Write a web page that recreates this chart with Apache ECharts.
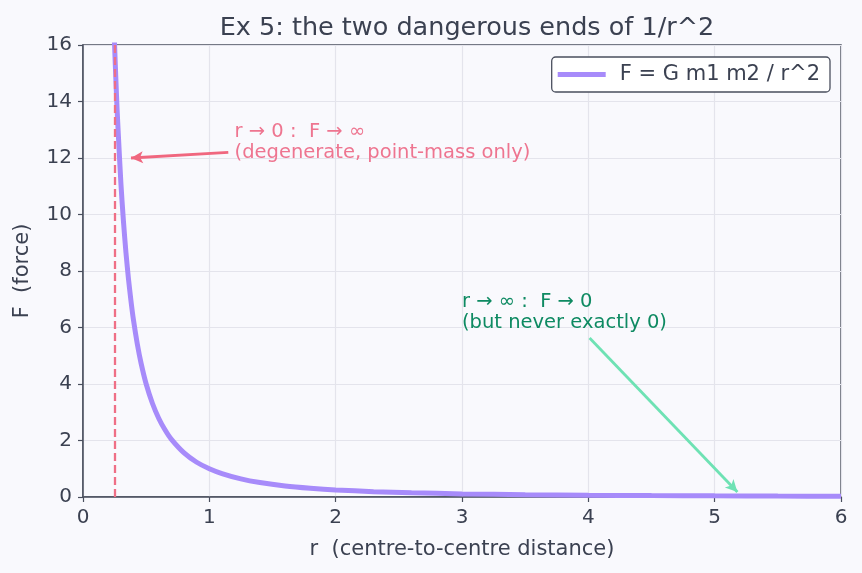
<!DOCTYPE html>
<html><head><meta charset="utf-8">
<script src="https://cdn.jsdelivr.net/npm/echarts@6/dist/echarts.min.js"></script>
<style>html,body{margin:0;padding:0;background:#f9f9fd;}#c{width:862px;height:573px;}</style>
</head><body><div id="c"></div>
<script>
// Data
const rValues = [0.24,0.25,0.26,0.27,0.28,0.3,0.32,0.34,0.36,0.38,0.4,0.43,0.46,0.5,0.55,0.6,0.65,0.7,0.8,0.9,1.0,1.1,1.25,1.4,1.6,1.8,2.0,2.3,2.6,3.0,3.5,4.0,4.5,5.0,5.5,6.0];
const forceValues = [17.4,16.0,14.8,13.7,12.8,11.1,9.77,8.65,7.72,6.93,6.25,5.41,4.73,4.0,3.31,2.78,2.37,2.04,1.56,1.23,1.0,0.83,0.64,0.51,0.39,0.31,0.25,0.19,0.15,0.11,0.082,0.0625,0.049,0.04,0.033,0.028];
const xTicks = [0,1,2,3,4,5,6];
const yTicks = [0,2,4,6,8,10,12,14,16];
const dashR = 0.25;
const nearArrow = [[1.15,12.2],[0.38,12.0]];
const farArrow = [[4.01,5.63],[5.18,0.18]];
const nearText = {pos:[1.2,12], lines:['r \u2192 0 :  F \u2192 \u221e','(degenerate, point-mass only)']};
const farText = {pos:[3.0,6], lines:['r \u2192 \u221e :  F \u2192 0','(but never exactly 0)']};
const titleText = 'Ex 5: the two dangerous ends of 1/r^2';
const seriesName = 'F = G m1 m2 / r^2';

const FONT = 'DejaVu Sans';
const TXT = '#3b4151';
const chart = echarts.init(document.getElementById('c'), null, {renderer:'canvas'});
const data = rValues.map((r,i)=>[r, forceValues[i]]);
chart.setOption({
  backgroundColor:'#f9f9fd',
  animation:false,
  title:{text:titleText,left:462,textAlign:'center',top:10,textStyle:{fontFamily:FONT,fontSize:25.5,fontWeight:'normal',color:TXT}},
  legend:{show:true,right:32,top:57,orient:'vertical',itemWidth:48,itemHeight:5,itemGap:0,
    padding:[7,10,7,6],borderColor:'#4a4f5e',borderWidth:1.3,borderRadius:4,backgroundColor:'#ffffff',
    textStyle:{fontFamily:FONT,fontSize:21,color:TXT,padding:[0,0,0,9]},
    data:[{name:seriesName,icon:'rect'}]},
  grid:{left:83,right:21,top:45,bottom:76,show:true,borderColor:'#4a4f5e',borderWidth:1.5,backgroundColor:'#f9f9fd'},
  xAxis:{type:'value',min:0,max:6,interval:1,
    name:'r  (centre-to-centre distance)',nameLocation:'middle',nameGap:42,
    nameTextStyle:{fontFamily:FONT,fontSize:21,color:TXT},
    axisLine:{show:true,lineStyle:{color:'#4a4f5e',width:1.5}},
    axisTick:{show:true,length:5,lineStyle:{color:'#4a4f5e',width:1.2}},
    axisLabel:{fontFamily:FONT,fontSize:20,color:TXT,margin:11,formatter:v=>xTicks.includes(v)?String(v):''},
    splitLine:{show:true,lineStyle:{color:'#e4e4ec',width:1.2}}},
  yAxis:{type:'value',min:0,max:16,interval:2,
    name:'F  (force)',nameLocation:'middle',nameGap:50,nameRotate:90,
    nameTextStyle:{fontFamily:FONT,fontSize:21,color:TXT},
    axisLine:{show:true,lineStyle:{color:'#4a4f5e',width:1.5}},
    axisTick:{show:true,length:5,lineStyle:{color:'#4a4f5e',width:1.2}},
    axisLabel:{fontFamily:FONT,fontSize:20,color:TXT,margin:11,formatter:v=>yTicks.includes(v)?String(v):''},
    splitLine:{show:true,lineStyle:{color:'#e4e4ec',width:1.2}}},
  series:[
    {name:seriesName,type:'line',data:data,showSymbol:false,smooth:0.25,clip:true,
     lineStyle:{color:'#a78bfa',width:5},itemStyle:{color:'#a78bfa'},z:3,
     markLine:{silent:true,symbol:['none','none'],label:{show:false},
       lineStyle:{color:'#ef6f86',width:2.3,type:[8,4]},
       data:[{xAxis:dashR}]}},
    {name:'nearArrow',type:'line',data:[],z:5,
     markLine:{silent:true,symbol:['none','arrow'],symbolSize:[9,12],label:{show:false},
       lineStyle:{color:'#f0677f',width:2.8,type:'solid'},
       data:[[{coord:nearArrow[0]},{coord:nearArrow[1]}]]}},
    {name:'farArrow',type:'line',data:[],z:5,
     markLine:{silent:true,symbol:['none','arrow'],symbolSize:[9,12],label:{show:false},
       lineStyle:{color:'#6ee2b4',width:2.8,type:'solid'},
       data:[[{coord:farArrow[0]},{coord:farArrow[1]}]]}}
  ]
});
function addText(){
  const els=[];
  const specs=[[nearText,'#ee7590'],[farText,'#0e8a62']];
  specs.forEach(([t,col])=>{
    const p=chart.convertToPixel({gridIndex:0},t.pos);
    els.push({type:'text',x:p[0],y:p[1]+5.5,z:10,
      style:{text:t.lines.join('\n'),fill:col,font:'19.5px "DejaVu Sans"',lineHeight:21,
        textAlign:'left',textVerticalAlign:'bottom'}});
  });
  chart.setOption({graphic:els});
}
addText();
</script>
</body></html>
